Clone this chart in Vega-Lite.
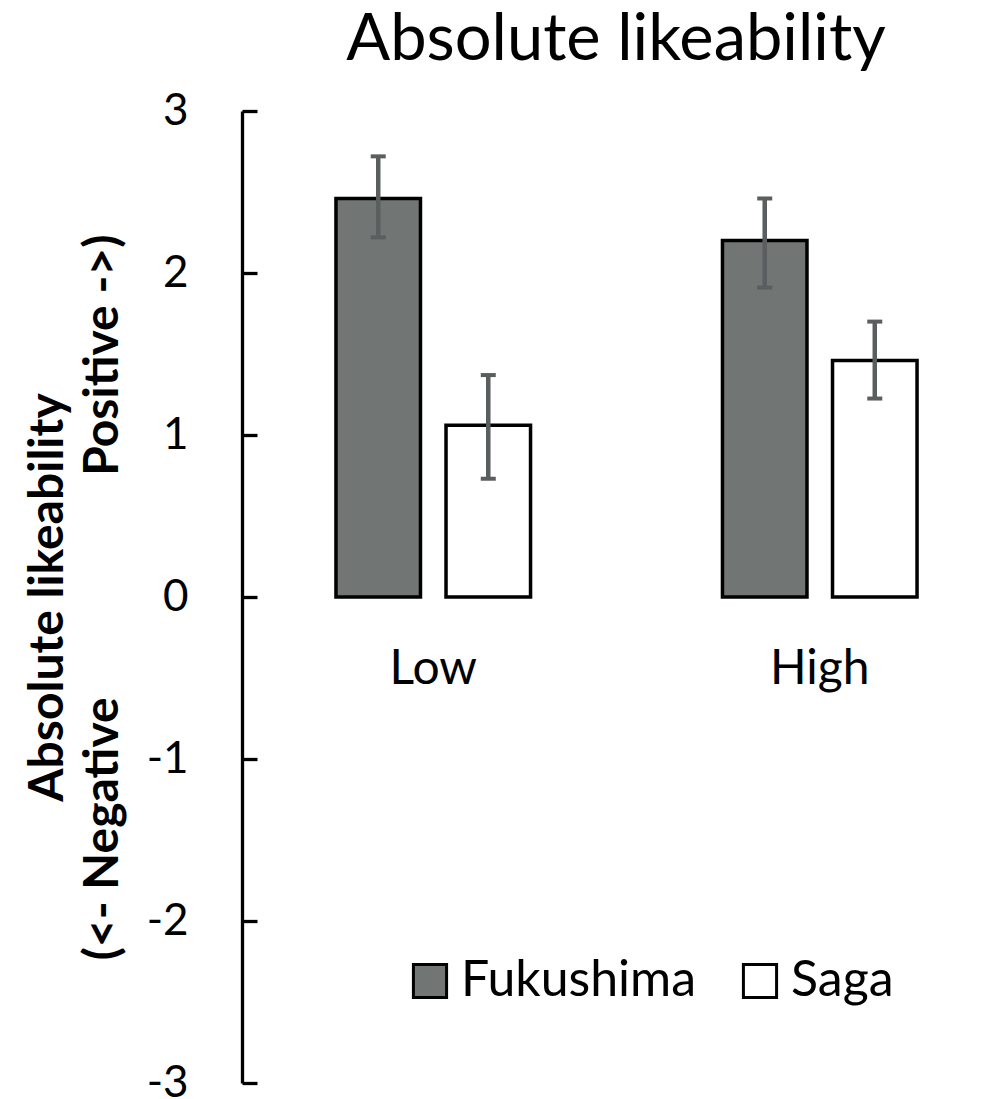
{
  "$schema": "https://vega.github.io/schema/vega-lite/v6.json",
  "autosize": {"type": "none"},
  "padding": {"left": 242, "top": 111, "right": 0, "bottom": 16},
  "width": 764,
  "height": 972,
  "background": "white",
  "config": {
    "view": {"stroke": null},
    "font": "Lato"
  },
  "title": {
    "text": "Absolute likeability",
    "font": "Lato",
    "fontSize": 65,
    "fontWeight": "normal",
    "color": "black",
    "anchor": "middle",
    "frame": "group",
    "baseline": "alphabetic",
    "offset": 22,
    "dx": -8,
    "dy": 58
  },
  "data": {
    "values": [
      {"level": "Low", "region": "Fukushima", "mean": 2.46, "lo": 2.22, "hi": 2.72},
      {"level": "Low", "region": "Saga", "mean": 1.06, "lo": 0.73, "hi": 1.37},
      {"level": "High", "region": "Fukushima", "mean": 2.2, "lo": 1.91, "hi": 2.46},
      {"level": "High", "region": "Saga", "mean": 1.46, "lo": 1.225, "hi": 1.7}
    ]
  },
  "encoding": {
    "x": {
      "field": "level",
      "type": "nominal",
      "sort": ["Low", "High"],
      "scale": {"range": [-2, 771], "paddingInner": 0, "paddingOuter": 0},
      "axis": {
        "title": null,
        "domain": false,
        "ticks": false,
        "tickSize": 0,
        "labelAngle": 0,
        "labelFont": "Lato",
        "labelFontSize": 48,
        "labelColor": "black",
        "labelPadding": 48,
        "offset": -486
      }
    },
    "xOffset": {
      "field": "region",
      "type": "nominal",
      "sort": ["Fukushima", "Saga"],
      "scale": {"paddingInner": 0.232, "paddingOuter": 0.872}
    }
  },
  "layer": [
    {
      "mark": {"type": "bar", "stroke": "black", "strokeWidth": 3.5},
      "encoding": {
        "y": {
          "field": "mean",
          "type": "quantitative",
          "scale": {"domain": [-3, 3], "nice": false, "zero": false},
          "axis": {
            "values": [-3, -2, -1, 0, 1, 2, 3],
            "labelExpr": "'' + datum.value",
            "grid": false,
            "domainColor": "black",
            "domainWidth": 3.3,
            "tickColor": "black",
            "tickWidth": 3.3,
            "tickSize": -15,
            "labelFont": "Lato",
            "labelFontSize": 44,
            "labelColor": "black",
            "labelPadding": 69,
            "title": ["Absolute likeability", "\u00a0\u00a0\u00a0(<- Negative\u00a0\u00a0\u00a0\u00a0\u00a0\u00a0\u00a0\u00a0\u00a0\u00a0\u00a0\u00a0\u00a0\u00a0\u00a0\u00a0\u00a0\u00a0\u00a0Positive ->)"],
            "titleFont": "Lato",
            "titleFontSize": 48,
            "titleFontWeight": "bold",
            "titleColor": "black",
            "titleAngle": -90,
            "titleAlign": "center",
            "titleBaseline": "alphabetic",
            "titleLineHeight": 55,
            "titleX": -180,
            "titleY": 486
          }
        },
        "y2": {"datum": 0},
        "color": {
          "field": "region",
          "type": "nominal",
          "sort": ["Fukushima", "Saga"],
          "scale": {"range": ["#717574", "#ffffff"]},
          "legend": {
            "title": null,
            "orient": "none",
            "direction": "horizontal",
            "legendX": 163,
            "legendY": 845,
            "padding": 0,
            "symbolType": "square",
            "symbolSize": 1100,
            "symbolStrokeColor": "black",
            "symbolStrokeWidth": 3,
            "labelFont": "Lato",
            "labelFontSize": 50,
            "labelColor": "black",
            "labelLimit": 400,
            "labelOffset": 6,
            "columnPadding": 38
          }
        }
      }
    },
    {
      "mark": {"type": "rule", "color": "black", "strokeWidth": 3},
      "encoding": {"y": {"datum": 0}}
    },
    {
      "mark": {"type": "rule", "color": "#5a5e5f", "strokeWidth": 4.5},
      "encoding": {
        "y": {"field": "lo", "type": "quantitative"},
        "y2": {"field": "hi"}
      }
    },
    {
      "transform": [{"fold": ["lo", "hi"], "as": ["bound", "val"]}],
      "mark": {"type": "tick", "color": "#5a5e5f", "size": 15, "thickness": 4, "opacity": 1},
      "encoding": {
        "y": {"field": "val", "type": "quantitative"}
      }
    }
  ]
}
